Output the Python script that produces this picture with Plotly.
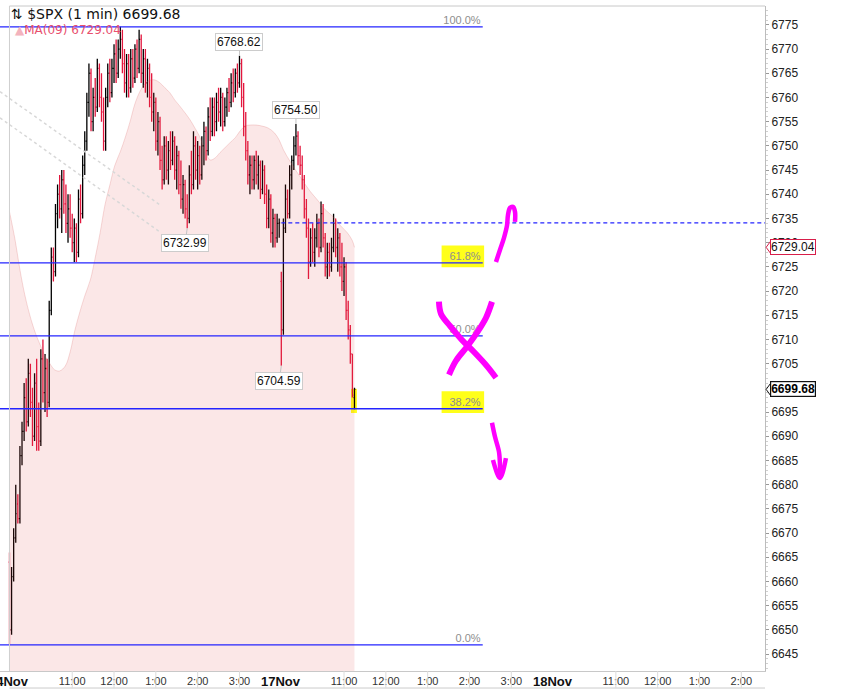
import plotly.graph_objects as go

# ---------------- data ----------------
SESSION_MINUTES = 390          # one trading session (09:30-16:00)
BAR_MINUTES = 3                # bar spacing on the time axis (session minutes)

day_names = ["14Nov", "17Nov", "18Nov"]
hour_labels = ["11:00", "12:00", "1:00", "2:00", "3:00"]
hour_offsets = [90, 150, 210, 270, 330]          # minutes after 09:30

# 14 Nov session
opens_14 = [6664, 6650, 6661, 6669, 6676, 6673, 6686, 6691, 6698, 6693,
            6703, 6697, 6690, 6701, 6692, 6689, 6706, 6699, 6704, 6697,
            6716, 6727, 6724, 6736, 6740, 6737, 6743, 6738, 6734, 6737,
            6733, 6730, 6733, 6728, 6739, 6736, 6746, 6751, 6759, 6765,
            6755, 6760, 6758, 6766, 6760, 6757, 6751, 6760, 6765, 6761,
            6766, 6769, 6765, 6770, 6772, 6767, 6763, 6767, 6762, 6768,
            6764, 6770, 6766, 6772, 6765, 6768, 6763, 6766, 6760, 6757,
            6759, 6751, 6755, 6747, 6743, 6750, 6745, 6749, 6747, 6751,
            6745, 6748, 6742, 6739, 6742, 6737, 6735, 6744, 6742, 6750,
            6745, 6748, 6744, 6750, 6753, 6749, 6756, 6753, 6758, 6755,
            6759, 6757, 6760, 6755, 6758, 6761, 6759, 6763, 6761, 6765,
            6763, 6767, 6760, 6754, 6749, 6744, 6746, 6743, 6747, 6744,
            6746, 6741, 6745, 6740, 6735, 6739, 6732, 6735, 6731, 6734]
highs_14 = [6666, 6663, 6671, 6680, 6678, 6688, 6693, 6701, 6702, 6706,
            6705, 6700, 6703, 6706, 6697, 6708, 6710, 6707, 6706, 6718,
            6729, 6729, 6738, 6742, 6744, 6745, 6745, 6742, 6740, 6740,
            6736, 6735, 6734, 6741, 6742, 6748, 6753, 6761, 6767, 6766,
            6762, 6764, 6768, 6767, 6765, 6760, 6762, 6767, 6768, 6768,
            6771, 6772, 6772, 6774.6, 6774, 6770, 6769, 6769, 6770, 6770,
            6771, 6772, 6774, 6773, 6770, 6770, 6768, 6767, 6765, 6761,
            6760, 6757, 6756, 6750, 6752, 6752, 6751, 6753, 6753, 6752,
            6750, 6749, 6747, 6744, 6743, 6740, 6746, 6749, 6753, 6752,
            6751, 6750, 6752, 6755, 6754, 6758, 6760, 6760, 6760, 6761,
            6762, 6762, 6761, 6760, 6762, 6764, 6765, 6766, 6766, 6767,
            6768.62, 6768, 6763, 6757, 6751, 6748, 6748, 6748, 6749, 6748,
            6747, 6747, 6746, 6742, 6741, 6740, 6737, 6736, 6736, 6735]
lows_14 = [6647, 6649, 6660, 6668, 6672, 6672, 6684, 6689, 6691, 6692,
           6694, 6688, 6689, 6687, 6687, 6688, 6697, 6695, 6694, 6696,
           6715, 6722, 6723, 6733, 6735, 6732, 6736, 6732, 6730, 6731,
           6728, 6726, 6726, 6727, 6734, 6735, 6744, 6749, 6756, 6753,
           6753, 6756, 6757, 6758, 6755, 6749, 6749, 6758, 6759, 6760,
           6763, 6763, 6764, 6768, 6765, 6761, 6760, 6760, 6761, 6762,
           6763, 6764, 6765, 6763, 6762, 6761, 6760, 6758, 6755, 6753,
           6749, 6748, 6745, 6741, 6742, 6743, 6742, 6745, 6746, 6743,
           6741, 6740, 6737, 6736, 6735, 6732.99, 6734, 6740, 6741, 6743,
           6741, 6742, 6743, 6746, 6747, 6748, 6751, 6752, 6752, 6753,
           6755, 6754, 6753, 6754, 6756, 6757, 6758, 6759, 6760, 6761,
           6762, 6758, 6752, 6747, 6742, 6740, 6741, 6741, 6742, 6741,
           6739, 6740, 6738, 6733, 6733, 6730, 6729, 6729, 6730, 6731]
closes_14 = [6650, 6661, 6669, 6674, 6673, 6686, 6691, 6698, 6693, 6703,
             6697, 6690, 6701, 6692, 6689, 6706, 6699, 6704, 6697, 6716,
             6727, 6724, 6736, 6740, 6737, 6743, 6738, 6734, 6737, 6733,
             6730, 6733, 6728, 6739, 6736, 6746, 6751, 6759, 6765, 6755,
             6760, 6758, 6766, 6760, 6757, 6751, 6760, 6765, 6761, 6766,
             6769, 6765, 6770, 6772, 6767, 6763, 6767, 6762, 6768, 6764,
             6770, 6766, 6772, 6765, 6768, 6763, 6766, 6760, 6757, 6759,
             6751, 6755, 6747, 6743, 6750, 6745, 6749, 6747, 6751, 6745,
             6748, 6742, 6739, 6742, 6737, 6735, 6744, 6742, 6750, 6745,
             6748, 6744, 6750, 6753, 6749, 6756, 6753, 6758, 6755, 6759,
             6757, 6760, 6755, 6758, 6761, 6759, 6763, 6761, 6765, 6763,
             6767, 6760, 6754, 6749, 6744, 6746, 6743, 6747, 6744, 6746,
             6741, 6745, 6740, 6735, 6739, 6732, 6735, 6731, 6734, 6734.11]

# 17 Nov session (to 11:15)
opens_17 = [6722, 6712, 6733, 6739, 6736, 6744, 6747, 6750, 6752, 6748,
            6746, 6743, 6737, 6733, 6726, 6731, 6728, 6731, 6734, 6729,
            6736, 6731, 6725, 6728, 6725, 6729, 6734, 6729, 6731, 6725,
            6722, 6725, 6716, 6712, 6707, 6698]
highs_17 = [6724, 6735, 6742, 6741, 6746, 6748, 6752, 6754.5, 6753, 6750,
            6748, 6744, 6739, 6735, 6733, 6734, 6733, 6736, 6735, 6738.5,
            6738, 6732, 6730, 6730, 6731, 6736, 6735, 6733, 6732, 6730,
            6727, 6726, 6718, 6713, 6707, 6700]
lows_17 = [6704.59, 6711, 6732, 6735, 6735, 6741, 6745, 6748, 6746, 6744,
           6741, 6735, 6731, 6722.5, 6725, 6726, 6725, 6729, 6727, 6728,
           6729, 6723, 6722.5, 6723, 6724, 6728, 6727, 6724, 6723, 6720,
           6719, 6714, 6710, 6705, 6698, 6695.6]
closes_17 = [6712, 6733, 6739, 6736, 6744, 6747, 6750, 6752, 6748, 6746,
             6743, 6737, 6733, 6726, 6731, 6728, 6731, 6734, 6729, 6736,
             6731, 6725, 6728, 6725, 6729, 6734, 6729, 6731, 6725, 6722,
             6725, 6716, 6712, 6707, 6698.5, 6699.68]

# MA(09) curve (session minutes, price)
ma_minutes = [0, 8, 15, 22, 29, 37, 44, 51, 58, 65, 72, 80, 87, 94, 101,
              108, 116, 123, 130, 137, 144, 151, 159, 166, 173, 180, 187,
              194, 202, 209, 216, 223, 230, 237, 245, 252, 259, 266, 273,
              280, 288, 295, 302, 309, 316, 324, 331, 338, 345, 354, 362,
              371, 380, 387, 393, 403, 417, 432, 442, 453, 465, 475, 485,
              492, 495]
ma_values = [6736.4, 6730.6, 6724.4, 6719.2, 6715.1, 6711.4, 6708.9, 6706.6,
             6705.0, 6703.7, 6703.5, 6704.5, 6707.4, 6712.0, 6715.7, 6719.0,
             6722.3, 6726.9, 6732.0, 6737.8, 6741.9, 6745.9, 6748.8, 6751.7,
             6755.0, 6758.7, 6761.2, 6762.8, 6763.6, 6763.6, 6763.0, 6762.0,
             6761.0, 6759.5, 6758.1, 6756.8, 6755.4, 6753.7, 6751.9, 6749.2,
             6747.1, 6747.5, 6748.6, 6749.6, 6750.6, 6751.7, 6753.1, 6754.1,
             6754.3, 6754.3, 6754.1, 6753.7, 6752.7, 6751.2, 6749.2, 6746.7,
             6743.6, 6740.5, 6738.8, 6736.8, 6735.3, 6733.5, 6732.0, 6730.4,
             6729.04]

# Fibonacci retracement (14 Nov low -> high)
fib_low = 6646.9
fib_high = 6774.6
fib_ratios = [1.0, 0.618, 0.5, 0.382, 0.0]
fib_labels = ["100.0%", "61.8%", "50.0%", "38.2%", "0.0%"]
fib_highlighted = ["61.8%", "38.2%"]
fib_end_minute = 679

prev_close = 6734.11
last_price = 6699.68
ma_last = 6729.04

# price call-outs: (value, side)
callout_values = [6768.62, 6754.50, 6732.99, 6704.59]
callout_sides = ["high", "high", "low", "low"]

# dotted trend lines (minute, price)
trend_a_min = [-13.6, 216]
trend_a_val = [6761.2, 6737.8]
trend_b_min = [-13.6, 216]
trend_b_val = [6755.8, 6732.2]

# hand-drawn magenta marks (minute, price)
up_arrow_min = [698.0, 703.7, 709.5, 713.8, 715.2, 718.1, 722.4, 725.3, 725.3]
up_arrow_val = [6726.0, 6728.5, 6731.0, 6733.5, 6735.7, 6737.2, 6737.4, 6736.4, 6734.3]
cross1_min = [616.2, 619.1, 632.0, 649.2, 667.9, 685.1, 698.0]
cross1_val = [6717.8, 6715.3, 6712.8, 6709.9, 6707.2, 6704.5, 6702.1]
cross2_min = [692.3, 683.7, 670.8, 656.4, 640.6, 630.6]
cross2_val = [6717.8, 6714.5, 6711.4, 6708.5, 6705.6, 6702.7]
down_shaft_min = [692.3, 696.6, 702.3, 703.7, 703.7]
down_shaft_val = [6692.8, 6689.9, 6686.8, 6684.1, 6681.6]
down_head_min = [693.7, 703.7, 712.3]
down_head_val = [6685.1, 6681.4, 6685.5]

# price-axis tick labels (6700 sits under the last-price box)
y_ticks = [v for v in range(6645, 6780, 5) if v != 6700]

# ---------------- assemble ----------------
t14 = [BAR_MINUTES * i for i in range(len(closes_14))]
t17 = [SESSION_MINUTES + BAR_MINUTES * j for j in range(len(closes_17))]
times = t14 + t17
opens = opens_14 + opens_17
highs = highs_14 + highs_17
lows = lows_14 + lows_17
closes = closes_14 + closes_17

X_MIN, X_MAX = -13.6, 1084
Y_MIN, Y_MAX = 6641.5, 6778.9
FONT = "Liberation Sans, Arial, sans-serif"
BLUE = "#2424ff"
MAG = "#ff00ff"

fig = go.Figure()

# MA shaded area
fig.add_trace(go.Scatter(
    x=ma_minutes, y=ma_values, mode="lines",
    line=dict(color="rgba(215,90,90,0.22)", width=1, shape="spline"),
    fill="tozeroy", fillcolor="rgba(220,60,60,0.12)",
    hoverinfo="skip", showlegend=False))

# price bars
fig.add_trace(go.Ohlc(
    x=times, open=opens, high=highs, low=lows, close=closes,
    increasing=dict(line=dict(color="#000000", width=1.3)),
    decreasing=dict(line=dict(color="#e3173e", width=1.3)),
    tickwidth=0.45, hoverinfo="skip", showlegend=False))

# dotted trend lines
for tx, ty in [(trend_a_min, trend_a_val), (trend_b_min, trend_b_val)]:
    fig.add_trace(go.Scatter(x=tx, y=ty, mode="lines",
                             line=dict(color="#d8d8d8", width=1.5, dash="dot"),
                             hoverinfo="skip", showlegend=False))

# Fibonacci levels
fib_levels = [fib_low + r * (fib_high - fib_low) for r in fib_ratios]
fx, fy = [], []
for lv in fib_levels:
    fx += [X_MIN, fib_end_minute, None]
    fy += [lv, lv, None]
fig.add_trace(go.Scatter(x=fx, y=fy, mode="lines",
                         line=dict(color=BLUE, width=1.3),
                         hoverinfo="skip", showlegend=False))

# previous close dashed line
fig.add_trace(go.Scatter(x=[SESSION_MINUTES, X_MAX], y=[prev_close, prev_close],
                         mode="lines", line=dict(color=BLUE, width=1.3, dash="4px,3px"),
                         hoverinfo="skip", showlegend=False))

# Fib labels (text trace so the hand drawing can cover them)
fig.add_trace(go.Scatter(
    x=[fib_end_minute - 3] * len(fib_levels), y=fib_levels, mode="text",
    text=fib_labels, textposition="top left",
    textfont=dict(family=FONT, size=11, color="#8e8e8e"),
    hoverinfo="skip", showlegend=False))

# hand-drawn marks
for mx, my, w in [(up_arrow_min, up_arrow_val, 4.5),
                  (cross1_min, cross1_val, 6),
                  (cross2_min, cross2_val, 6),
                  (down_shaft_min, down_shaft_val, 4.5),
                  (down_head_min, down_head_val, 4.5)]:
    fig.add_trace(go.Scatter(x=mx, y=my, mode="lines",
                             line=dict(color=MAG, width=w, shape="spline"),
                             hoverinfo="skip", showlegend=False))

shapes = []
# yellow highlights behind 61.8% / 38.2%
for lab, lv in zip(fib_labels, fib_levels):
    if lab in fib_highlighted:
        shapes.append(dict(type="rect", xref="x", yref="y", layer="below",
                           x0=620, x1=681, y0=lv - 0.9, y1=lv + 3.6,
                           fillcolor="#ffff1a", line=dict(width=0)))
# yellow highlight on last bar
shapes.append(dict(type="rect", xref="x", yref="y", layer="below",
                   x0=times[-1] - 5, x1=times[-1] + 3.5,
                   y0=lows[-1] - 0.8, y1=highs[-1] - 0.2,
                   fillcolor="#ffff1a", line=dict(width=0)))
# session start line and top frame line
shapes.append(dict(type="line", xref="x", yref="paper", x0=0, x1=0, y0=0, y1=1,
                   line=dict(color="#cfcfcf", width=1)))
shapes.append(dict(type="line", xref="paper", yref="paper", x0=9.5 / 765, x1=1, y0=1, y1=1,
                   line=dict(color="#c8c8c8", width=1)))
# lower panel border
shapes.append(dict(type="line", xref="paper", yref="paper", x0=9.5 / 765, x1=1,
                   y0=-0.0256, y1=-0.0256, line=dict(color="#cccccc", width=1)))

# time ticks through the labels
tickvals, ticktext = [], []
for d in range(len(day_names)):
    for off, lab in zip(hour_offsets, hour_labels):
        v = d * SESSION_MINUTES + off
        if X_MIN < v < X_MAX:
            tickvals.append(v)
            ticktext.append(lab)
            shapes.append(dict(type="line", xref="x", yref="paper", x0=v, x1=v,
                               y0=0, y1=-0.026, line=dict(color="#dcdcdc", width=1)))

# value boxes pointers on the price axis
for val, col in [(ma_last, "#d81e4a"), (last_price, "#111111")]:
    shapes.append(dict(type="path", xref="paper", yref="y",
                       path=f"M 1.0015,{val} L 1.0075,{val + 1.3} L 1.0075,{val - 1.3} Z",
                       fillcolor="white", line=dict(color=col, width=1)))

annotations = []
# day labels
for d, name in enumerate(day_names):
    annotations.append(dict(x=d * SESSION_MINUTES, y=0, xref="x", yref="paper",
                            yanchor="top", yshift=-1, showarrow=False,
                            text=f"<b>{name}</b>",
                            font=dict(family=FONT, size=13, color="#111")))
# call-outs
for val, side in zip(callout_values, callout_sides):
    arr = highs if side == "high" else lows
    k = min(range(len(arr)), key=lambda i: abs(arr[i] - val))
    annotations.append(dict(x=times[k], y=val, xref="x", yref="y",
                            text=f"{val:.2f}", showarrow=True, arrowhead=0,
                            arrowwidth=1, arrowcolor="#c4c4c4",
                            ax=-2 if side == "low" else 0,
                            ay=-14 if side == "high" else 15,
                            bgcolor="white", bordercolor="#cccccc", borderwidth=1,
                            borderpad=1, font=dict(family=FONT, size=12, color="#111")))
# axis value boxes
annotations.append(dict(x=1, y=ma_last, xref="paper", yref="y", xanchor="left",
                        xshift=5, showarrow=False, text=f"{ma_last:.2f}",
                        bgcolor="white", bordercolor="#d81e4a", borderwidth=1, borderpad=0,
                        font=dict(family=FONT, size=12, color="#111")))
annotations.append(dict(x=1, y=last_price, xref="paper", yref="y", xanchor="left",
                        xshift=5, showarrow=False, text=f"<b>{last_price:.2f}</b>",
                        bgcolor="white", bordercolor="#111111", borderwidth=1.2, borderpad=0,
                        font=dict(family=FONT, size=12, color="#000")))
# legend-like headers
annotations.append(dict(x=9 / 765, y=1 - 8.5 / 665, xref="paper", yref="paper",
                        xanchor="left", yanchor="middle", showarrow=False,
                        text=f"⇅ $SPX (1 min) {last_price:.2f}",
                        font=dict(family="DejaVu Sans", size=14, color="#111")))
annotations.append(dict(x=13 / 765, y=1 - 24 / 665, xref="paper", yref="paper",
                        xanchor="left", yanchor="middle", showarrow=False,
                        text=f"<span style='color:#f3b3bd'>▲</span>MA(09) {ma_last:.2f}",
                        font=dict(family="DejaVu Sans", size=12, color="#e8506e")))

fig.update_layout(
    width=843, height=694,
    margin=dict(l=0, r=78, t=6, b=23),
    paper_bgcolor="white", plot_bgcolor="white",
    showlegend=False, hovermode=False,
    font=dict(family=FONT, size=11, color="#222"),
    shapes=shapes, annotations=annotations,
    xaxis=dict(range=[X_MIN, X_MAX], rangeslider=dict(visible=False),
               showgrid=False, zeroline=False, showline=True, linecolor="#c8c8c8",
               tickmode="array", tickvals=tickvals, ticktext=ticktext, ticks="",
               tickfont=dict(family=FONT, size=11, color="#333"), automargin=False),
    yaxis=dict(range=[Y_MIN, Y_MAX], side="right", showgrid=False, zeroline=False,
               showline=True, linecolor="#bcbcbc", ticks="outside", ticklen=3,
               tickcolor="#999", tickmode="array", tickvals=y_ticks,
               ticktext=[str(v) for v in y_ticks],
               minor=dict(ticks="outside", dtick=1, ticklen=2, tickcolor="#d0d0d0"),
               tickfont=dict(family=FONT, size=12, color="#222"), automargin=False),
)

fig.write_html("out.html",
               config={"displayModeBar": False, "staticPlot": True},
               post_script="document.body.style.margin='0';document.body.style.overflow='hidden';")
